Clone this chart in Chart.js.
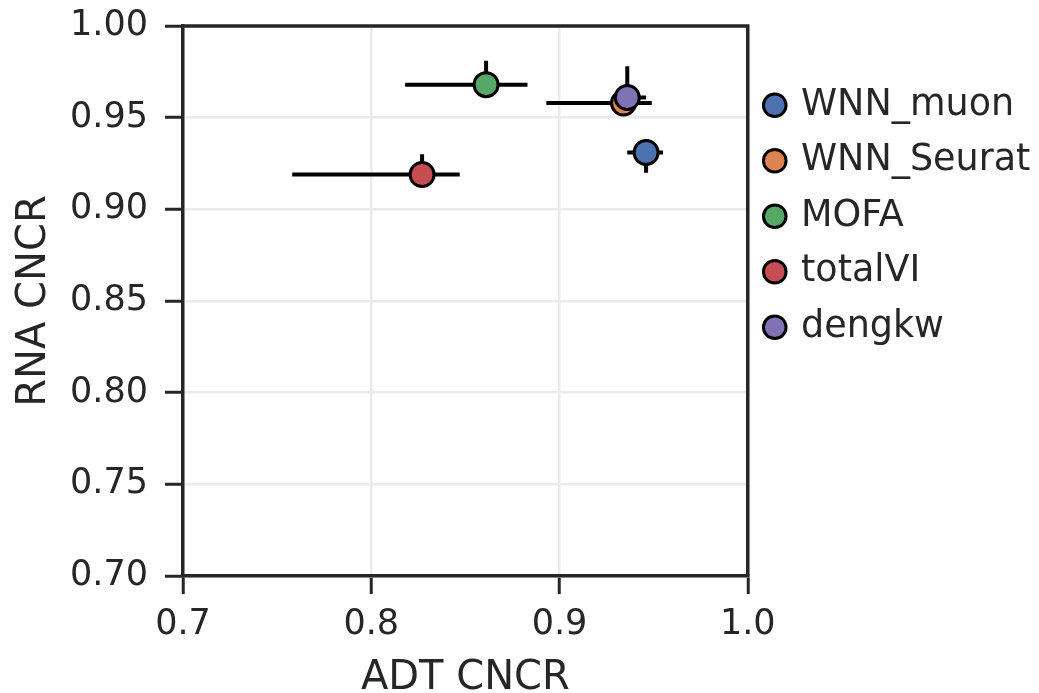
<!DOCTYPE html>
<html>
<head>
<meta charset="utf-8">
<script src="https://cdn.jsdelivr.net/npm/chart.js@4.4.1/dist/chart.umd.min.js"></script>
<style>
  body { margin: 0; background: #fff; }
  #box { width: 1039px; height: 693px; }
</style>
</head>
<body>
<div id="box"><canvas id="cncrChart"></canvas></div>
<script>
// values
var methods = ['WNN_muon', 'WNN_Seurat', 'MOFA', 'totalVI', 'dengkw'];
var colors = ['#4c72b0', '#dd8452', '#55a868', '#c44e52', '#8172b3'];
var adtCncr = [0.946, 0.934, 0.861, 0.827, 0.936];
var rnaCncr = [0.931, 0.958, 0.968, 0.919, 0.961];
var adtLow = [0.936, 0.893, 0.818, 0.758, 0.929];
var adtHigh = [0.955, 0.949, 0.883, 0.847, 0.946];
var rnaLow = [0.920, 0.955, 0.962, 0.913, 0.953];
var rnaHigh = [0.936, 0.961, 0.981, 0.930, 0.978];
var xTicks = [0.7, 0.8, 0.9, 1.0];
var yTicks = [0.70, 0.75, 0.80, 0.85, 0.90, 0.95, 1.00];

var textColor = '#262626';
var fontFamily = 'DejaVu Sans';

var datasets = methods.map(function (m, i) {
  return {
    label: m,
    data: [{ x: adtCncr[i], y: rnaCncr[i] }],
    backgroundColor: colors[i],
    borderColor: '#000',
    borderWidth: 3,
    pointRadius: 12,
    pointHoverRadius: 12,
    order: methods.length - i   // later methods on top, like the original
  };
});

// error bars, drawn under the markers
var errorBars = {
  id: 'errorBars',
  beforeDatasetsDraw: function (chart) {
    var c = chart.ctx, xs = chart.scales.x, ys = chart.scales.y;
    c.save();
    c.strokeStyle = '#000';
    c.lineWidth = 4;
    c.lineCap = 'butt';
    methods.forEach(function (m, i) {
      var px = xs.getPixelForValue(adtCncr[i]);
      var py = ys.getPixelForValue(rnaCncr[i]);
      c.beginPath();
      c.moveTo(xs.getPixelForValue(adtLow[i]), py);
      c.lineTo(xs.getPixelForValue(adtHigh[i]), py);
      c.moveTo(px, ys.getPixelForValue(rnaLow[i]));
      c.lineTo(px, ys.getPixelForValue(rnaHigh[i]));
      c.stroke();
    });
    c.restore();
  }
};

// box round the plot (top and right sides)
var frame = {
  id: 'frame',
  beforeDatasetsDraw: function (chart) {
    var a = chart.chartArea, c = chart.ctx;
    c.save();
    c.strokeStyle = textColor;
    c.lineWidth = 3.5;
    c.beginPath();
    c.moveTo(a.left, a.top);
    c.lineTo(a.right, a.top);
    c.lineTo(a.right, a.bottom);
    c.stroke();
    c.restore();
  }
};

// the legend box is capped at a quarter of the width; let the long labels show
var wideLegend = {
  id: 'wideLegend',
  afterLayout: function (chart) {
    if (chart.legend) { chart.legend.right = chart.width; }
  }
};

new Chart(document.getElementById('cncrChart'), {
  type: 'scatter',
  data: { datasets: datasets },
  options: {
    responsive: true,
    maintainAspectRatio: false,
    animation: false,
    layout: { padding: { top: 14, left: 0, right: 42, bottom: 0 } },
    plugins: {
      tooltip: { enabled: false },
      legend: {
        position: 'right',
        align: 'start',
        title: { display: true, text: ' ', font: { size: 10, lineHeight: 1 }, padding: { top: 44, bottom: 0 } },
        labels: {
          usePointStyle: true,
          pointStyle: 'circle',
          boxWidth: 16,
          boxHeight: 16,
          padding: 19,
          color: textColor,
          font: { family: fontFamily, size: 36.5 },
          sort: function (a, b) { return a.datasetIndex - b.datasetIndex; }
        }
      }
    },
    scales: {
      x: {
        type: 'linear',
        min: 0.7,
        max: 1.0,
        afterBuildTicks: function (s) { s.ticks = xTicks.map(function (v) { return { value: v }; }); },
        afterFit: function (s) { s.height = 117; },
        ticks: {
          padding: 10,
          color: textColor,
          font: { family: fontFamily, size: 35 },
          callback: function (v) { return Number(v).toFixed(1); }
        },
        grid: { color: '#ebebeb', lineWidth: 2.5, tickColor: textColor, tickWidth: 3, tickLength: 18 },
        border: { color: textColor, width: 3.5 },
        title: {
          display: true,
          text: 'ADT CNCR',
          color: textColor,
          font: { family: fontFamily, size: 40, lineHeight: 0.7 },
          padding: { top: 0, bottom: 0 }
        }
      },
      y: {
        type: 'linear',
        min: 0.7,
        max: 1.0,
        afterBuildTicks: function (s) { s.ticks = yTicks.map(function (v) { return { value: v }; }); },
        afterFit: function (s) { s.width = 183; s.paddingTop = 26; },
        ticks: {
          padding: 17,
          color: textColor,
          font: { family: fontFamily, size: 35 },
          callback: function (v) { return Number(v).toFixed(2); }
        },
        grid: { color: '#ebebeb', lineWidth: 2.5, tickColor: textColor, tickWidth: 3, tickLength: 18 },
        border: { color: textColor, width: 3.5 },
        title: {
          display: true,
          text: 'RNA CNCR',
          color: textColor,
          font: { family: fontFamily, size: 40, lineHeight: 1 },
          padding: { top: 14.5, bottom: 0 }
        }
      }
    }
  },
  plugins: [errorBars, frame, wideLegend]
});
</script>
</body>
</html>
